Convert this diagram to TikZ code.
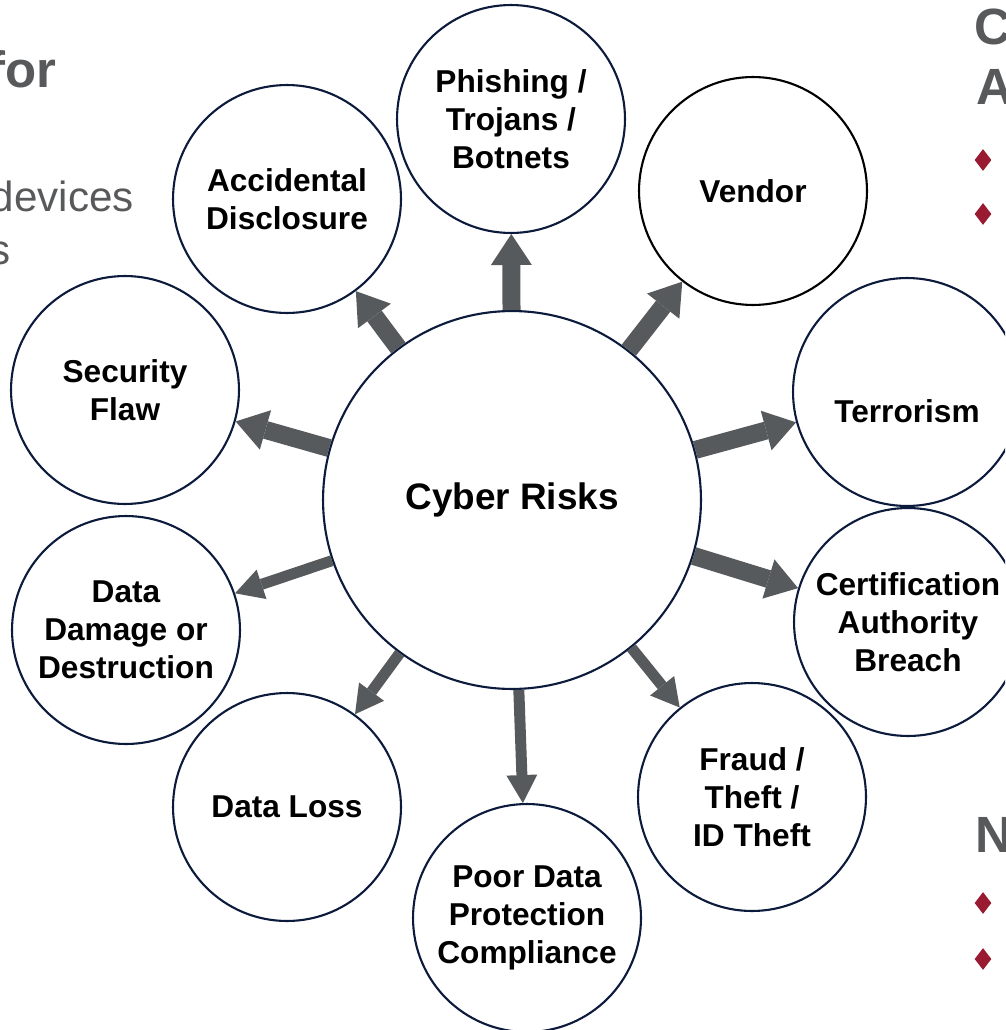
\documentclass[tikz,border=0pt]{standalone}
\usepackage{fontspec}
\setmainfont{Liberation Sans}
\usetikzlibrary{arrows.meta,shapes.geometric}
\definecolor{ringnavy}{RGB}{12,26,60}
\definecolor{arrowgray}{RGB}{87,90,93}
\definecolor{titlegray}{RGB}{88,89,91}
\definecolor{bulletred}{RGB}{152,27,50}

\begin{document}
\begin{tikzpicture}[x=0.02cm,y=-0.02cm,
		risk/.style={circle,draw=ringnavy,line width=1.2pt,fill=white,minimum size=4.56cm,
			inner sep=0pt,align=center,font=\fontsize{18}{21.6}\selectfont\bfseries},
		hub/.style={risk,minimum size=7.56cm,font=\fontsize{21}{25}\selectfont\bfseries},
		risklabel/.style={inner sep=0pt,font=\fontsize{18}{21.6}\selectfont\bfseries},
		bigarrow/.style={draw=arrowgray,line width=0.36cm,
			-{Triangle[length=0.62cm,width=0.82cm,line width=0pt]}},
		smallarrow/.style={draw=arrowgray,line width=0.22cm,
			-{Triangle[length=0.56cm,width=0.62cm,line width=0pt]}},
		slide/.style={text=titlegray,inner sep=0pt},
		bullet/.style={diamond,fill=bulletred,inner sep=0pt,minimum width=0.34cm,minimum height=0.44cm}]
		\useasboundingbox (0,0) rectangle (1005,1030);
		\clip (0,0) rectangle (1005,1030);
		% slide text behind the diagram
		\node[slide,anchor=base east,font=\fontsize{29}{32}\selectfont\bfseries] (tfor) at (57,88) {for};
		\node[slide,anchor=base east,font=\fontsize{24}{30}\selectfont] (tdev) at (134,212) {devices};
		\node[slide,anchor=base east,font=\fontsize{24}{30}\selectfont] (ts) at (11,265) {s};
		\node[slide,anchor=base west,font=\fontsize{29}{32}\selectfont\bfseries] (tc) at (974,45) {C};
		\node[slide,anchor=base west,font=\fontsize{29}{32}\selectfont\bfseries] (ta) at (976,105) {A};
		\node[slide,anchor=base west,font=\fontsize{29}{32}\selectfont\bfseries] (tn) at (975,852) {N};
		\node[bullet] (b1) at (983,160) {};
		\node[bullet] (b2) at (983,214) {};
		\node[bullet] (b3) at (983,903) {};
		\node[bullet] (b4) at (983,959) {};
		% circles
		\node[hub] (cyber) at (512,500) {Cyber Risks};
		\node[risk] (phish) at (511,119) {Phishing /\\Trojans /\\Botnets};
		\node[risk] (accid) at (287,199) {Accidental\\Disclosure};
		\node[risk,draw=black] (vend) at (753,191) {Vendor};
		\node[risk] (secur) at (125,390) {Security\\Flaw};
		\node[risk] (terr) at (907,392) {};
		\node[risklabel] (terrlbl) at (907,411) {Terrorism};
		\node[risk] (cert) at (908,622) {Certification\\Authority\\Breach};
		\node[risk] (damage) at (126,630) {Data\\Damage or\\Destruction};
		\node[risk] (loss) at (287,807) {Data Loss};
		\node[risk] (fraud) at (752,797) {Fraud /\\Theft /\\ID Theft};
		\node[risk] (poor) at (527,918) {Poor Data\\Protection\\Compliance};
		% arrows
		\draw[bigarrow] (cyber) -- (phish);
		\draw[bigarrow] (cyber) -- (accid);
		\draw[bigarrow] (cyber) -- (vend);
		\draw[bigarrow] (cyber) -- (secur);
		\draw[bigarrow] (cyber) -- (terr);
		\draw[bigarrow] (cyber) -- (cert);
		\draw[smallarrow] (cyber) -- (damage);
		\draw[smallarrow] (cyber) -- (loss);
		\draw[smallarrow] (cyber) -- (poor);
		\draw[smallarrow] (cyber) -- (fraud);
	\end{tikzpicture}
\end{document}
